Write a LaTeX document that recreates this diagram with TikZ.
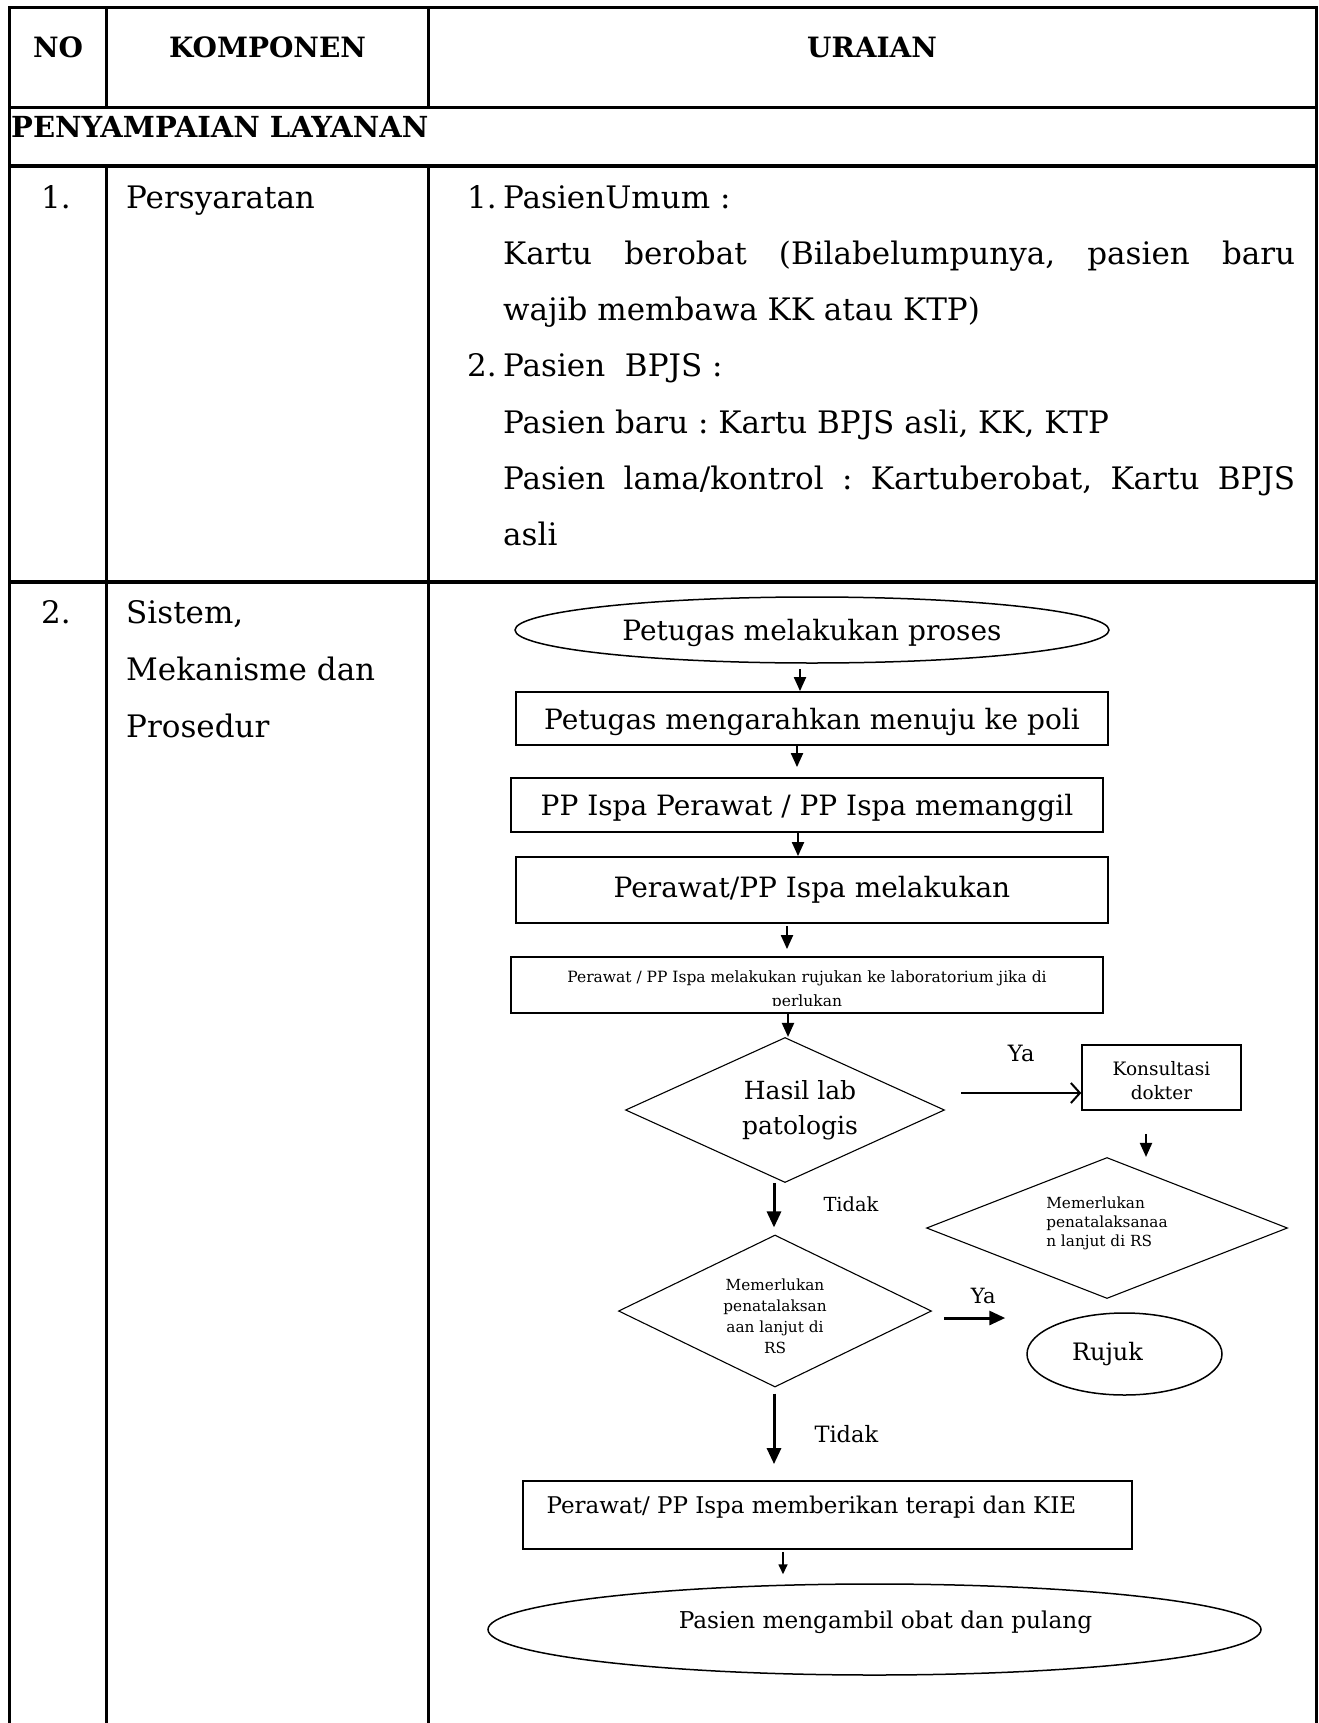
\documentclass[tikz,border=0pt]{standalone}
\usepackage{fontspec}
\setmainfont{DejaVu Serif}
\usetikzlibrary{shapes.geometric,arrows.meta,positioning}

\tikzset{
  tabline/.style={line width=3.4pt, line join=miter},
  celltext/.style={font=\fontsize{31}{56}\selectfont, inner sep=0pt, anchor=base west},
  headtext/.style={font=\fontsize{28}{34}\selectfont\bfseries, inner sep=0pt, anchor=base},
  flowbox/.style={draw, line width=1.8pt, rectangle, inner sep=0pt, minimum width=592pt,
    font=\fontsize{28}{34}\selectfont},
  flowoval/.style={draw, line width=1.5pt, ellipse, inner sep=0pt},
  flowdiam/.style={draw, line width=1.1pt, diamond, inner sep=0pt, aspect=2.2},
  flowlabel/.style={inner sep=0pt},
  arr/.style={line width=2pt, -{Triangle[length=14pt,width=12pt]}},
  thickarr/.style={line width=3pt, -{Triangle[length=16pt,width=14pt]}},
  smallarr/.style={line width=1.6pt, -{Triangle[length=10pt,width=9pt]}},
  openarr/.style={line width=2pt, -{Straight Barb[length=9pt,width=20pt]}},
}

\begin{document}
\frenchspacing
\begin{tikzpicture}[x=1pt,y=-1pt]
    \useasboundingbox (0,0) rectangle (1319,1723);

    % table lines
    \draw[tabline] (9.5,1723) -- (9.5,7.3) -- (1316.5,7.3) -- (1316.5,1723);
    \draw[tabline] (9.5,107.7) -- (1316.5,107.7);
    \draw[tabline] (9.5,166) -- (1316.5,166);
    \draw[tabline] (9.5,582) -- (1316.5,582);
    \draw[tabline] (106.7,7.3) -- (106.7,107.7);
    \draw[tabline] (428.3,7.3) -- (428.3,107.7);
    \draw[tabline] (106.7,166) -- (106.7,1723);
    \draw[tabline] (428.3,166) -- (428.3,1723);

    % header
    \node[headtext] (no) at (58,58) {NO};
    \node[headtext] (komponen) at (267.5,58) {KOMPONEN};
    \node[headtext] (uraian) at (872,58) {URAIAN};
    \node[headtext, anchor=base west, font=\fontsize{29}{34}\selectfont\bfseries] (layanan) at (11,138) {PENYAMPAIAN LAYANAN};

    % row 1
    \node[celltext, anchor=base] (no1) at (56,208) {1.};
    \node[celltext] (syarat) at (126,208) {Persyaratan};
    \node[celltext] (umum) at (467,208) {\makebox[36pt][l]{1.}PasienUmum :};
    \node[celltext] (umum1) at (503,264.3) {\makebox[792pt][s]{Kartu berobat (Bilabelumpunya, pasien baru}};
    \node[celltext] (umum2) at (503,320.6) {wajib membawa KK atau KTP)};
    \node[celltext] (bpjs) at (467,376.9) {\makebox[36pt][l]{2.}Pasien\ \ BPJS :};
    \node[celltext] (bpjs1) at (503,433.2) {Pasien baru : Kartu BPJS asli, KK, KTP};
    \node[celltext] (bpjs2) at (503,489.5) {\makebox[792pt][s]{Pasien lama/kontrol : Kartuberobat, Kartu BPJS}};
    \node[celltext] (bpjs3) at (503,545.8) {asli};

    % row 2
    \node[celltext, anchor=base] (no2) at (56,623) {2.};
    \node[celltext] (sistem) at (126,623) {Sistem,};
    \node[celltext] (mekanisme) at (126,680) {Mekanisme dan};
    \node[celltext] (prosedur) at (126,737) {Prosedur};

    % flowchart
    \node[flowoval, minimum width=594pt, minimum height=66pt, text depth=0pt,
      font=\fontsize{28}{34}\selectfont] (mulai) at (812,630) {Petugas melakukan proses};
    \node[flowbox, minimum height=53pt, text depth=0pt] (arahkan) at (812,718.5) {Petugas mengarahkan menuju ke poli};
    \node[flowbox, minimum height=54pt, text depth=0pt] (panggil) at (807,805) {PP Ispa Perawat / PP Ispa memanggil};
    \node[flowbox, minimum height=66pt] (periksa) at (812,890) {Perawat/PP Ispa melakukan};
    \node[flowbox, minimum height=56pt] (lab) at (807,985) {};
    \begin{scope}
      \clip (511,957) rectangle (1103,1005);
      \node[flowlabel, anchor=base, font=\fontsize{15.5}{24}\selectfont] (lab1) at (807,982)
        {Perawat / PP Ispa melakukan rujukan ke laboratorium jika di};
      \node[flowlabel, anchor=base, font=\fontsize{15.5}{24}\selectfont] (lab2) at (807,1006) {perlukan};
    \end{scope}

    \node[flowdiam, minimum width=319pt, minimum height=145pt,
      label={[font=\fontsize{25}{35}\selectfont, align=center, xshift=15pt]center:Hasil lab\\patologis}]
      (hasil) at (785,1110) {};
    \node[draw, line width=1.5pt, minimum width=159pt, minimum height=65pt, inner sep=0pt,
      label={[font=\fontsize{18.5}{24}\selectfont, align=center, yshift=-3pt]center:Konsultasi\\dokter}]
      (konsul) at (1161.5,1077.5) {};
    \node[flowdiam, minimum width=361pt, minimum height=141pt,
      label={[font=\fontsize{15.3}{19}\selectfont, align=left, yshift=5pt]center:Memerlukan\\penatalaksanaa\\n lanjut di RS}]
      (lanjut1) at (1107,1228) {};
    \node[flowdiam, minimum width=313pt, minimum height=152pt,
      label={[font=\fontsize{15.3}{21}\selectfont, align=center, yshift=-5pt]center:Memerlukan\\penatalaksan\\aan lanjut di\\RS}]
      (lanjut2) at (775,1311) {};
    \node[flowoval, minimum width=195pt, minimum height=82pt,
      label={[font=\fontsize{24}{30}\selectfont, xshift=-17pt]center:Rujuk}] (rujuk) at (1124.5,1354) {};
    \node[draw, line width=1.8pt, minimum width=609pt, minimum height=68pt, inner sep=0pt,
      label={[font=\fontsize{23}{28}\selectfont, anchor=west, xshift=21pt, yshift=8pt]west:Perawat/ PP Ispa memberikan terapi dan KIE}]
      (terapi) at (827.5,1515) {};
    \node[flowoval, minimum width=773pt, minimum height=91pt,
      label={[font=\fontsize{23.2}{28}\selectfont, xshift=11pt, yshift=7pt]center:Pasien mengambil obat dan pulang}]
      (pulang) at (874.5,1629.5) {};

    % arrows
    \draw[arr, shorten <=5pt] ([xshift=-12pt]mulai.south) -- ([xshift=-12pt]arahkan.north);
    \draw[arr, shorten >=10pt] ([xshift=-15pt]arahkan.south) -- ([xshift=-10pt]panggil.north);
    \draw[arr] ([xshift=-9pt]panggil.south) -- ([xshift=-14pt]periksa.north);
    \draw[arr, shorten <=2pt, shorten >=7pt] ([xshift=-25pt]periksa.south) -- ([xshift=-20pt]lab.north);
    \draw[arr] ([xshift=-19pt]lab.south) -- ([xshift=3pt]hasil.north);
    \draw[openarr] ([xshift=16pt,yshift=17pt]hasil.east) --
      node[flowlabel, above=30pt, font=\fontsize{22.5}{28}\selectfont] (ya1) {Ya} ([yshift=-15.5pt]konsul.west);
    \draw[arr, shorten <=23pt] ([xshift=-15.5pt]konsul.south) -- ([xshift=39pt]lanjut1.north);
    \draw[thickarr, shorten >=7pt] ([xshift=-11pt]hasil.south) --
      node[flowlabel, right=48pt, yshift=4pt, font=\fontsize{19.4}{24}\selectfont] (tidak1) {Tidak} ([xshift=-1pt]lanjut2.north);
    \draw[thickarr] ([xshift=12pt,yshift=-7pt]lanjut2.east) --
      node[flowlabel, above=13pt, xshift=8.5pt, font=\fontsize{21}{26}\selectfont] (ya2) {Ya} ([xshift=-21pt,yshift=36pt]rujuk.west);
    \draw[thickarr, shorten <=6pt, shorten >=16pt] ([xshift=-1pt]lanjut2.south) --
      node[flowlabel, right=39pt, font=\fontsize{22.5}{28}\selectfont] (tidak2) {Tidak} ([xshift=-53.5pt]terapi.north);
    \draw[smallarr, shorten <=2pt, shorten >=9pt] ([xshift=-44.5pt]terapi.south) -- ([xshift=-91.5pt]pulang.north);
\end{tikzpicture}
\end{document}
